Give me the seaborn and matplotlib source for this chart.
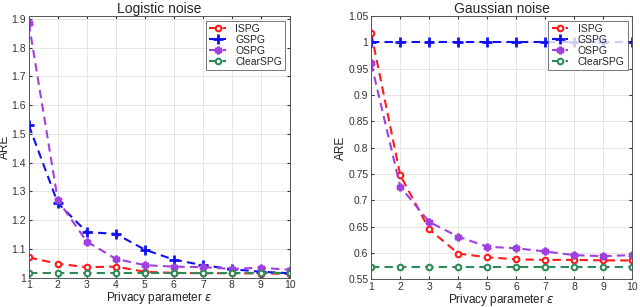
import numpy as np
import pandas as pd
import matplotlib
matplotlib.use("Agg")
import matplotlib.pyplot as plt
import seaborn as sns
from matplotlib.ticker import FuncFormatter

eps = [1, 2, 3, 4, 5, 6, 7, 8, 9, 10]
series_names = ["ISPG", "GSPG", "OSPG", "ClearSPG"]

log_ispg = [1.070, 1.048, 1.036, 1.038, 1.020, 1.016, 1.015, 1.015, 1.014, 1.013]
log_gspg = [1.530, 1.259, 1.158, 1.152, 1.097, 1.062, 1.043, 1.029, 1.020, 1.015]
log_ospg = [1.885, 1.269, 1.125, 1.065, 1.043, 1.038, 1.036, 1.030, 1.034, 1.027]
log_clear = [1.017, 1.017, 1.017, 1.017, 1.017, 1.017, 1.017, 1.017, 1.017, 1.017]

gau_ispg = [1.017, 0.748, 0.645, 0.599, 0.592, 0.588, 0.587, 0.587, 0.586, 0.586]
gau_gspg = [1.000, 1.000, 1.000, 1.000, 1.000, 1.000, 1.000, 1.000, 1.000, 1.000]
gau_ospg = [0.960, 0.726, 0.659, 0.631, 0.612, 0.609, 0.603, 0.596, 0.594, 0.596]
gau_clear = [0.573, 0.573, 0.573, 0.573, 0.573, 0.573, 0.573, 0.573, 0.573, 0.573]

colors = {"ISPG": "#ff1a1a", "GSPG": "#1010f0", "OSPG": "#a040e0", "ClearSPG": "#2e8b57"}

sns.set_style("whitegrid")
plt.rcParams["font.family"] = ["Liberation Sans", "DejaVu Sans"]

fig = plt.figure(figsize=(6.4, 3.07), dpi=100)
ax1 = fig.add_axes([0.045, 0.096, 0.408, 0.852])
ax2 = fig.add_axes([0.580, 0.090, 0.408, 0.858])

def draw(ax, data, title, ylim, yticks):
    frames = []
    for name, vals in zip(series_names, data):
        frames.append(pd.DataFrame({"eps": eps, "ARE": vals, "method": name}))
    df = pd.concat(frames)
    for name in series_names:
        sub = df[df.method == name]
        if name == "GSPG":
            mk = "+"
            kw = dict(markersize=7, markeredgewidth=2.0, markeredgecolor=colors[name])
        elif name == "OSPG":
            mk = (6, 2, 0)
            kw = dict(markersize=5.5, markeredgewidth=2.0, markeredgecolor=colors[name])
        else:
            mk = "o"
            kw = dict(markersize=4, markerfacecolor="white", markeredgecolor=colors[name],
                      markeredgewidth=1.5)
        sns.lineplot(data=sub, x="eps", y="ARE", ax=ax, color=colors[name],
                     linestyle=(0, (4, 2.5)), linewidth=1.5, marker=mk, label=name, **kw)
    ax.set_xlim(1, 10)
    ax.set_ylim(*ylim)
    ax.set_xticks(eps)
    ax.set_yticks(yticks)
    ax.yaxis.set_major_formatter(FuncFormatter(lambda v, p: "%g" % round(v, 2)))
    ax.set_title(title, fontsize=10, pad=2)
    ax.set_xlabel(r"Privacy parameter $\epsilon$", fontsize=8.5, labelpad=0, color="#222222")
    ax.set_ylabel("ARE", fontsize=8.5, color="#222222")
    ax.tick_params(axis="both", labelsize=7.5, colors="#333333", length=2.5, pad=2,
                   direction="in", left=True, bottom=True, top=True, right=True)
    ax.grid(True, color="#e2e2e2", linewidth=0.6)
    for s in ax.spines.values():
        s.set_edgecolor("#555555")
        s.set_linewidth(0.7)
    leg = ax.legend(loc="upper right", fontsize=7.5, frameon=True, fancybox=False,
                    handlelength=1.6, handletextpad=0.9, borderpad=0.3, labelspacing=0.1,
                    borderaxespad=0.45)
    leg.get_frame().set_edgecolor("#555555")
    leg.get_frame().set_linewidth(0.7)

draw(ax1, [log_ispg, log_gspg, log_ospg, log_clear], "Logistic noise", (1.0, 1.91),
     [1.0, 1.1, 1.2, 1.3, 1.4, 1.5, 1.6, 1.7, 1.8, 1.9])
draw(ax2, [gau_ispg, gau_gspg, gau_ospg, gau_clear], "Gaussian noise", (0.55, 1.05),
     [0.55, 0.6, 0.65, 0.7, 0.75, 0.8, 0.85, 0.9, 0.95, 1.0, 1.05])

ax1.yaxis.set_label_coords(-0.068, 0.5)
ax2.yaxis.set_label_coords(-0.092, 0.5)

fig.savefig("out.png", dpi=100)
